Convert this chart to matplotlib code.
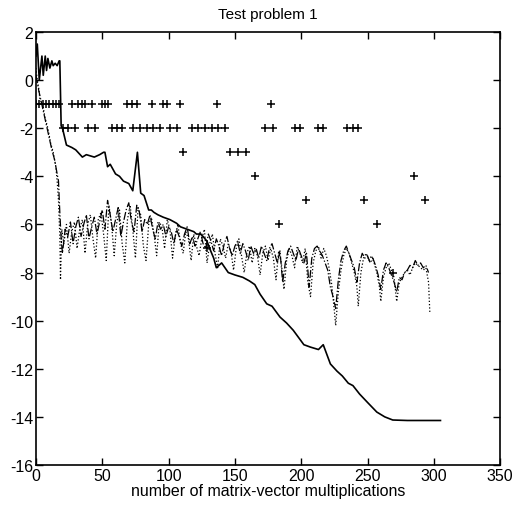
import numpy as np
import matplotlib
matplotlib.use("Agg")
import matplotlib.pyplot as plt

plt.rcParams['font.family'] = ['Liberation Sans', 'DejaVu Sans']
plt.rcParams['axes.unicode_minus'] = False

# solid curve
solid_x = [0, 1, 2.5, 4.5, 5.5, 7, 8, 9, 10.5, 12, 13, 14.5, 16, 17.5, 18,
           19, 20, 23, 27, 30, 35, 38, 41, 44, 48, 51, 52, 54, 56, 60, 63, 66,
           70, 73, 76.5, 79, 81.5, 85, 87, 89, 92, 96, 101, 106, 109, 114, 119,
           121, 124, 126, 129, 131, 134, 136, 140, 145, 150, 156, 161, 165, 169,
           174, 178, 184, 189, 194, 198, 202, 207, 213, 216.6, 222, 227, 231,
           235.5, 239, 244, 250, 257, 263, 269, 280, 290, 305]
solid_y = [1.0, 1.5, 0.0, 1.0, 0.2, 1.0, 0.4, 0.9, 0.5, 0.8, 0.6, 0.7, 0.6,
           0.8, 0.8,
           -1.9, -2.0, -2.7, -2.8, -2.9, -3.2, -3.1, -3.15, -3.2, -3.1, -3.0,
           -3.0, -3.6, -3.5, -3.9, -4.0, -4.2, -4.3, -4.6, -3.0, -4.7, -4.8,
           -5.4, -5.4, -5.5, -5.6, -5.7, -5.8, -5.95, -6.1, -6.2, -6.3, -6.4,
           -6.4, -6.5, -6.7, -7.0, -7.4, -7.8, -7.6, -8.0, -8.1, -8.2, -8.35,
           -8.5, -8.9, -9.3, -9.4, -9.85, -10.1, -10.4, -10.7, -11.0, -11.1,
           -11.2, -11.0, -11.8, -12.1, -12.3, -12.6, -12.7, -13.05, -13.4,
           -13.8, -14.0, -14.13, -14.15, -14.15, -14.15]

# dash-dot curve
dashdot_x = [0, 2, 4, 6, 8, 10, 12, 14, 16, 17, 18, 19, 20, 22, 24, 26, 28, 30,
             32, 34, 36, 38, 40, 42, 44, 46, 48, 50, 52, 54, 56, 58, 60, 62, 64,
             66, 68, 70, 72, 74, 76, 78, 80, 82, 84, 86, 88, 90, 92, 94, 96, 98,
             100, 102, 104, 106, 108, 110, 112, 114, 116, 118, 120, 122, 124,
             126, 128, 130, 132, 134, 136, 138, 140, 142, 144, 146, 148, 150,
             152, 154, 156, 158, 160, 162, 164, 166, 168, 170, 172, 174, 176,
             178, 180, 182, 184, 186, 188, 190, 192, 194, 196, 198, 200, 202,
             204, 206, 208, 210, 212, 214, 216, 218, 220, 222, 224, 226, 228,
             230, 232, 234, 236, 238, 240, 242, 244, 246, 248, 250, 252, 254,
             256, 258, 260, 262, 264, 266, 268, 270, 272, 274, 276, 278, 280,
             282, 284, 286, 288, 290, 292, 294, 296]
dashdot_y = [0.2, -0.4, -0.9, -1.4, -1.9, -2.4, -2.9, -3.3, -3.9, -4.2, -5.5,
             -6.6, -7.2, -6.2, -6.5, -5.9, -6.8, -6.1, -5.7, -6.5, -6.0, -5.6,
             -6.6, -6.1, -5.7, -6.4, -5.9, -5.4, -6.2, -5.0, -5.6, -6.3, -5.8,
             -5.3, -6.5, -5.9, -5.4, -5.1, -5.9, -6.3, -5.2, -5.5, -6.3, -5.8,
             -6.0, -5.6, -6.2, -6.6, -5.9, -6.2, -6.0, -6.5, -6.1, -6.3, -6.8,
             -6.2, -6.5, -6.9, -6.4, -6.1, -6.8, -6.5, -6.9, -6.6, -6.3, -6.8,
             -7.0, -6.4, -6.7, -7.1, -6.6, -6.9, -7.3, -6.8, -6.5, -7.0, -7.3,
             -6.9, -6.7, -7.2, -6.8, -7.1, -7.5, -6.9, -7.2, -7.0, -7.4, -6.9,
             -7.2, -7.5, -7.0, -6.8, -7.2, -7.6, -7.1, -8.4, -7.6, -7.1, -6.9,
             -7.2, -7.5, -7.0, -7.3, -7.6, -7.2, -8.6, -7.4, -7.0, -6.9, -7.1,
             -7.3, -7.6, -7.9, -8.6, -9.0, -9.5, -8.3, -7.5, -7.1, -6.9, -7.2,
             -7.5, -7.8, -8.4, -7.6, -7.2, -7.4, -7.3, -7.6, -7.4, -7.7, -8.1,
             -8.7, -7.9, -7.6, -7.8, -8.1, -8.4, -8.8, -8.2, -8.3, -8.0, -7.9,
             -7.7, -7.8, -7.5, -7.7, -7.6, -7.8, -7.7, -8.0]

# dotted curve
dotted_x = [0, 1, 2, 3, 5, 7, 9, 11, 13, 15, 16, 17, 18, 18.5, 19.5, 21, 23, 25,
            27, 29, 31, 33, 35, 37, 39, 41, 43, 45, 47, 49, 51, 53, 55, 57, 59,
            61, 63, 65, 67, 69, 71, 73, 75, 77, 79, 81, 83, 85, 87, 89, 91, 93,
            95, 97, 99, 101, 103, 105, 107, 109, 111, 113, 115, 117, 119, 121,
            123, 125, 127, 129, 131, 133, 135, 137, 139, 141, 143, 145, 147,
            149, 151, 153, 155, 157, 159, 161, 163, 165, 167, 169, 171, 173,
            175, 177, 179, 181, 183, 185, 187, 189, 191, 193, 195, 197, 199,
            201, 203, 205, 207, 209, 211, 213, 215, 217, 219, 221, 223, 225,
            226, 228, 230, 232, 234, 236, 238, 240, 242, 243, 245, 247, 249,
            251, 253, 255, 257, 259, 260, 262, 264, 266, 268, 270, 272, 274,
            276, 278, 280, 282, 284, 286, 288, 290, 292, 294, 296, 297]
dotted_y = [0.5, 0.0, -0.3, -0.8, -1.0, -1.6, -2.0, -2.6, -3.0, -3.6, -4.2,
            -5.0, -6.5, -8.3, -6.2, -6.8, -6.0, -7.2, -6.3, -5.9, -7.0, -6.2,
            -5.8, -7.2, -6.0, -5.6, -6.6, -7.4, -5.8, -5.5, -6.4, -7.5, -5.2,
            -6.0, -7.3, -5.9, -5.4, -6.8, -7.6, -5.8, -5.2, -6.2, -7.4, -5.3,
            -5.6, -6.9, -7.5, -6.0, -5.7, -6.4, -7.3, -5.9, -6.1, -7.0, -5.8,
            -6.2, -7.4, -6.5, -6.0, -6.8, -7.2, -6.3, -6.6, -7.5, -6.4, -6.9,
            -7.3, -6.6, -6.2, -7.6, -6.8, -6.4, -7.2, -7.8, -6.6, -6.9, -7.4,
            -6.8, -7.1, -7.9, -7.0, -6.6, -7.3, -8.0, -7.2, -6.9, -7.6, -7.0,
            -7.3, -8.1, -7.2, -6.9, -7.5, -7.0, -7.4, -8.3, -7.1, -7.6, -8.7,
            -7.5, -7.0, -7.3, -7.8, -6.9, -7.2, -7.6, -7.0, -8.4, -9.0, -7.6,
            -7.1, -6.9, -7.4, -7.0, -7.3, -7.8, -8.5, -9.6, -10.2, -8.8, -7.9,
            -7.3, -7.0, -7.2, -7.6, -8.0, -8.6, -9.4, -8.0, -7.4, -7.2, -7.5,
            -7.3, -7.6, -8.0, -8.6, -9.2, -8.2, -7.8, -7.6, -7.9, -8.2, -9.2,
            -8.4, -8.2, -8.0, -7.9, -8.1, -7.8, -7.6, -7.7, -7.8, -7.9, -7.8,
            -8.4, -9.7]

# '+' markers, grouped by level
plus_m1 = [0, 2.5, 5, 7.5, 10, 12.5, 15, 17.5,
           27, 32, 34.5, 37, 42, 49.6, 52, 54.5, 68.4, 72.2, 76, 87.3, 96,
           98.6, 108.6, 136.8, 177.3]
plus_m2 = [20.6, 24.4, 29.4, 39.5, 44.5, 57.1, 60.8, 64.6, 73.4, 78.5, 83.5,
           88.5, 93.5, 101, 106, 117.4, 122.4, 127.5, 132.5, 137.5, 142.6,
           172.7, 179, 195, 199, 213, 216.7, 234.8, 238.9, 243]
plus_m3 = [110.8, 146.6, 152, 158.3]
plus_m4 = [165, 285]
plus_m5 = [203.4, 247.4, 293.4]
plus_m6 = [183.5, 257]
plus_m7 = [129]
plus_m8 = [269.5]
plus_x = plus_m1 + plus_m2 + plus_m3 + plus_m4 + plus_m5 + plus_m6 + plus_m7 + plus_m8
plus_y = ([-1] * len(plus_m1) + [-2] * len(plus_m2) + [-3] * len(plus_m3)
          + [-4] * len(plus_m4) + [-5] * len(plus_m5) + [-6] * len(plus_m6)
          + [-7] * len(plus_m7) + [-8] * len(plus_m8))

fig = plt.figure(figsize=(5.21, 5.10), dpi=100)
ax = fig.add_axes([0.069, 0.0863, 0.891, 0.849])

ax.plot(dotted_x, dotted_y, color='black', linestyle=':', linewidth=0.9)
ax.plot(dashdot_x, dashdot_y, color='black', linestyle='-.', linewidth=0.9)
ax.plot(solid_x, solid_y, color='black', linestyle='-', linewidth=1.2)
ax.plot(plus_x, plus_y, linestyle='none', marker='+', color='black',
        markersize=6, markeredgewidth=1.1)

ax.set_xlim(0, 350)
ax.set_ylim(-16, 2)
ax.set_xticks([0, 50, 100, 150, 200, 250, 300, 350])
ax.set_yticks([-16, -14, -12, -10, -8, -6, -4, -2, 0, 2])
ax.tick_params(direction='in', top=True, right=True, length=5, width=1,
               labelsize=11.5, pad=2)
for s in ax.spines.values():
    s.set_linewidth(1.2)

ax.set_title("Test problem 1", fontsize=11, pad=10)
ax.set_xlabel("number of matrix-vector multiplications", fontsize=11.5, labelpad=0)

fig.savefig("out.png", dpi=100)
